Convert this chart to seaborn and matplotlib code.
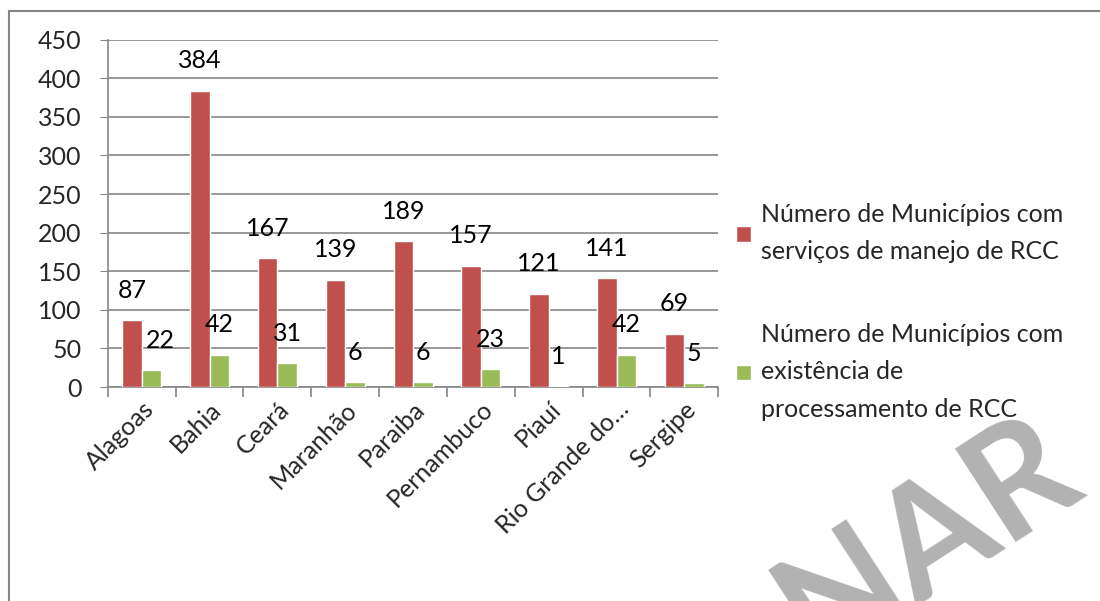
import matplotlib
matplotlib.use("Agg")
import matplotlib.pyplot as plt
import seaborn as sns
import pandas as pd

# data
estados = ["Alagoas", "Bahia", "Ceará", "Maranhão", "Paraiba",
           "Pernambuco", "Piauí", "Rio Grande do…", "Sergipe"]
manejo = [87, 384, 167, 139, 189, 157, 121, 141, 69]
processamento = [22, 42, 31, 6, 6, 23, 1, 42, 5]
series = ["Número de Municípios com\nserviços de manejo de RCC",
          "Número de Municípios com\nexistência de\nprocessamento de RCC"]
cores = ["#C0504D", "#9BBB59"]

df = pd.DataFrame({
    "Estado": estados * 2,
    "Valor": manejo + processamento,
    "Serie": [series[0]] * len(estados) + [series[1]] * len(estados),
})

sns.set_style("white")
plt.rcParams["font.family"] = ["Lato", "DejaVu Sans"]
FS = 18

fig = plt.figure(figsize=(11, 6.01), dpi=100)
ax = fig.add_axes([0.098, 0.356, 0.555, 0.578])

sns.barplot(data=df, x="Estado", y="Valor", hue="Serie", order=estados,
            hue_order=series, palette=cores, width=0.575, gap=0,
            saturation=1, ax=ax, zorder=3)

ax.set_ylim(0, 450)
ax.set_yticks(range(0, 451, 50))
ax.set_xlim(-0.5, len(estados) - 0.5)
ax.yaxis.grid(True, color="#868686", linewidth=1.2, zorder=0)
ax.set_axisbelow(True)
ax.set_xlabel("")
ax.set_ylabel("")

for s in ["top", "right"]:
    ax.spines[s].set_visible(False)
for s in ["left", "bottom"]:
    ax.spines[s].set_color("#868686")
    ax.spines[s].set_linewidth(1.2)

ax.tick_params(axis="y", which="both", left=True, length=6, color="#868686",
               labelsize=FS, pad=13)
ax.set_xticks([i + 0.5 for i in range(-1, len(estados))], minor=True)
ax.tick_params(axis="x", which="minor", bottom=True, length=7, color="#868686", width=1.2)
ax.tick_params(axis="x", which="major", bottom=False, labelsize=FS, pad=4)
ax.set_xticklabels(estados, rotation=45, ha="right", rotation_mode="anchor")

# data labels (the Alagoas green label sits a little to the right)
nudge = {(0, 1): 9}
for k, cont in enumerate(ax.containers):
    for i, bar in enumerate(cont):
        x = bar.get_x() + bar.get_width() / 2
        h = bar.get_height()
        ax.annotate(f"{int(h)}", (x, h),
                    xytext=(nudge.get((i, k), 0) * 0.72, 21.5),
                    textcoords="offset points", ha="center", va="center",
                    fontsize=FS, color="black")

leg = ax.legend(loc="upper left", bbox_to_anchor=(0.649, 0.70),
                bbox_transform=fig.transFigure, frameon=False,
                fontsize=FS, handlelength=0.6, handleheight=0.6,
                handletextpad=0.4, labelspacing=2.4)
for t in leg.get_texts():
    t.set_linespacing(1.75)

# outer frame of the chart area
fig.add_artist(plt.Line2D([9 / 1100, 9 / 1100], [0, 1 - 11 / 601],
                          color="#868686", linewidth=1.5))
fig.add_artist(plt.Line2D([9 / 1100, 1], [1 - 11 / 601, 1 - 11 / 601],
                          color="#868686", linewidth=1.5))

# watermark behind the chart
fig.text(928 / 1100, 1 - 538 / 601, "NAR", rotation=33, fontsize=110,
         fontweight="bold", color="#B2B2B2", ha="center", va="center",
         zorder=-5, family="Lato")

fig.savefig("out.png", dpi=100, facecolor="white")
